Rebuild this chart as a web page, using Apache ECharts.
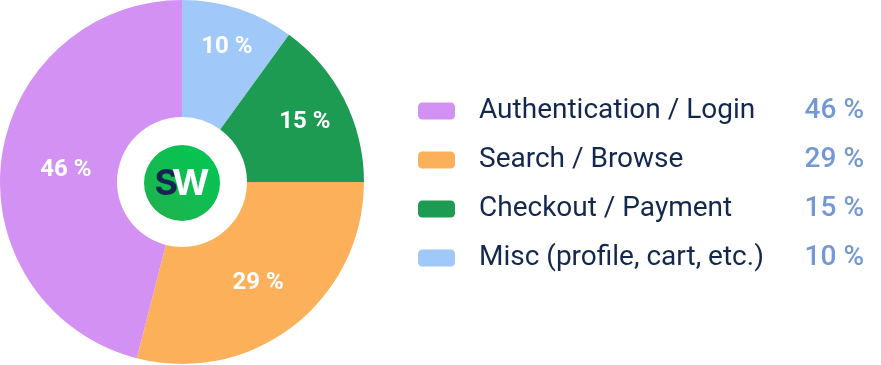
<!DOCTYPE html>
<html><head><meta charset="utf-8">
<script src="https://cdn.jsdelivr.net/npm/echarts@6/dist/echarts.min.js"></script>
<style>html,body{margin:0;padding:0;background:#fff}#c{width:881px;height:365px}</style>
</head><body><div id="c"></div>
<script>
// Slices in drawing order (clockwise from 12 o'clock)
const categories = ['Misc (profile, cart, etc.)', 'Checkout / Payment', 'Search / Browse', 'Authentication / Login'];
const values = [10, 15, 29, 46];
const colors = ['#a0c8f8', '#1e9b52', '#fdb05a', '#d391f4'];
// Legend order
const legendOrder = ['Authentication / Login', 'Search / Browse', 'Checkout / Payment', 'Misc (profile, cart, etc.)'];

// label radius (distance from centre) for each slice's percentage text
const labelRadius = [142, 135, 121, 114];

const valueOf = {};
categories.forEach((c, i) => valueOf[c] = values[i]);

const R0 = 65, R1 = 182, DEF = (R0 + R1) / 2;
const total = values.reduce((a, b) => a + b, 0);
let cum = 0;
const pieData = categories.map((c, i) => {
  const mid = (cum + values[i] / 2) / total * 2 * Math.PI;
  cum += values[i];
  const d = labelRadius[i] - DEF;
  return {
    name: c, value: values[i],
    label: {offset: [d * Math.sin(mid), -d * Math.cos(mid) + 3]}
  };
});

const chart = echarts.init(document.getElementById('c'), null, {renderer: 'canvas'});
chart.setOption({
  animation: false,
  color: colors,
  legend: {
    orient: 'vertical',
    left: 418,
    top: 96,
    padding: 0,
    data: legendOrder,
    icon: 'roundRect',
    itemWidth: 37,
    itemHeight: 17,
    itemGap: 19,
    selectedMode: false,
    formatter: name => '{n|' + name + '}{v|' + valueOf[name] + ' %}',
    textStyle: {
      lineHeight: 30,
      rich: {
        n: {width: 321, padding: [0, 0, 0, 19], fontFamily: 'Roboto', fontSize: 28, color: '#14284f', lineHeight: 30},
        v: {width: 64, align: 'right', fontFamily: 'Roboto', fontSize: 28, fontWeight: 500, color: '#7498d3', lineHeight: 30}
      }
    }
  },
  series: [{
    type: 'pie',
    center: [182, 182],
    radius: [R0, R1],
    startAngle: 90,
    clockwise: true,
    label: {
      position: 'inside',
      formatter: p => p.value + ' %',
      color: '#ffffff',
      fontFamily: 'Roboto',
      fontSize: 24,
      fontWeight: 'bold'
    },
    labelLine: {show: false},
    emphasis: {disabled: true},
    data: pieData
  }],
  graphic: [
    {
      type: 'circle',
      shape: {cx: 182, cy: 183, r: 38},
      style: {
        fill: new echarts.graphic.LinearGradient(0, 1, 1, 0, [
          {offset: 0, color: '#22b04e'},
          {offset: 1, color: '#00c853'}
        ])
      }
    },
    {
      type: 'text',
      x: 182, y: 184,
      style: {
        text: '{s|S}{w|W}',
        align: 'center',
        verticalAlign: 'middle',
        rich: {
          s: {fontFamily: 'Inter', fontWeight: 'bold', fontSize: 36, fill: '#16254f', padding: [0, -6, 0, 0]},
          w: {fontFamily: 'Inter', fontWeight: 'bold', fontSize: 36, fill: '#ffffff'}
        }
      }
    }
  ]
});
</script></body></html>
